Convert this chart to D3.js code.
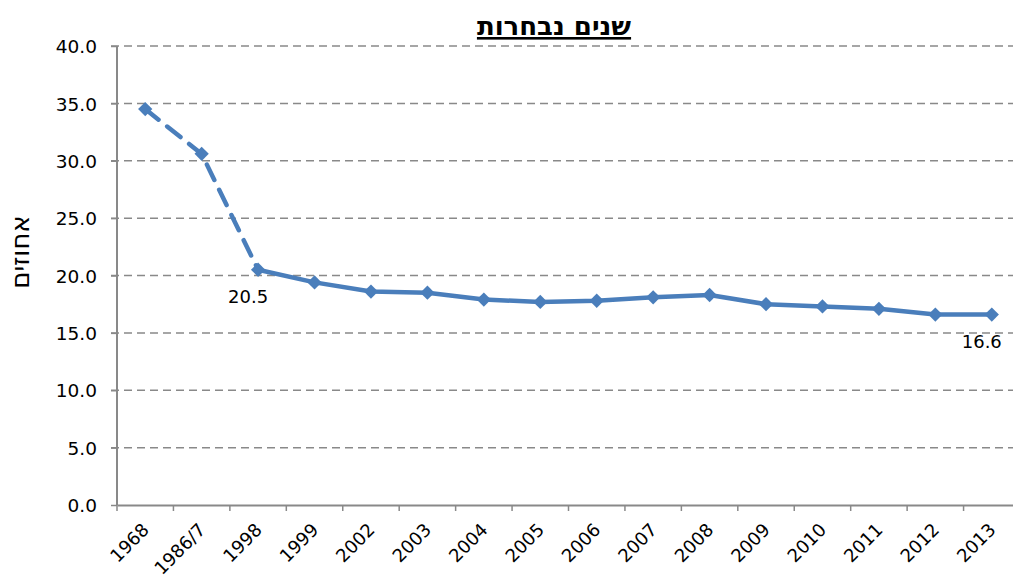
<!DOCTYPE html>
<html><head><meta charset="utf-8">
<script src="https://cdn.jsdelivr.net/npm/d3@7"></script>
<style>body{margin:0;background:#fff}svg{display:block}text{font-family:"DejaVu Sans",sans-serif}</style>
</head><body><svg id="c" width="1013" height="575"></svg>
<script>
const categories = ["1968","1986/7","1998","1999","2002","2003","2004","2005","2006","2007","2008","2009","2010","2011","2012","2013"];
const values = [34.5,30.6,20.5,19.4,18.6,18.5,17.9,17.7,17.8,18.1,18.3,17.5,17.3,17.1,16.6,16.6];
const yTicks = [0,5,10,15,20,25,30,35,40];
const title = "שנים נבחרות";
const yLabel = "אחוזים";
const labeledIdx = [2, 15];

const W = 1013;
const svg = d3.select("#c");
const mLeft = 117, mRight = 1020, mTop = 46, mBottom = 505;
const x = d3.scaleBand().domain(categories).range([mLeft, mRight]);
const y = d3.scaleLinear().domain([0, 40]).range([mBottom, mTop]);
const grey = "#898989";

// gridlines
svg.append("g").selectAll("line").data(yTicks.filter(d => d !== 0)).join("line")
  .attr("x1", mLeft - 6).attr("x2", W)
  .attr("y1", d => y(d)).attr("y2", d => y(d))
  .attr("stroke", grey).attr("stroke-width", 1.5).attr("stroke-dasharray", "8,5");

// y axis
const ya = svg.append("g").attr("transform", `translate(${mLeft},0)`)
  .call(d3.axisLeft(y).tickValues(yTicks).tickFormat(d3.format(".1f")).tickSize(6).tickPadding(14));
ya.select(".domain").attr("stroke", grey).attr("stroke-width", 2).attr("d", `M0,${mTop}V${mBottom}`);
ya.selectAll(".tick line").attr("stroke", grey).attr("stroke-width", 1.5);
ya.selectAll("text").attr("font-size", 18.5).attr("fill", "#000").attr("dy", "0.36em");

// x axis
const xa = svg.append("g").attr("transform", `translate(0,${mBottom})`)
  .call(d3.axisBottom(x).tickSize(0).tickPadding(0));
xa.select(".domain").attr("stroke", grey).attr("stroke-width", 2);
// boundary ticks
svg.append("g").selectAll("line").data(categories).join("line")
  .attr("x1", d => x(d)).attr("x2", d => x(d))
  .attr("y1", mBottom).attr("y2", mBottom + 6)
  .attr("stroke", grey).attr("stroke-width", 1.5);
xa.selectAll(".tick text")
  .attr("font-size", 18).attr("fill", "#000")
  .attr("text-anchor", "end").attr("dy", 0)
  .attr("transform", "translate(5,26) rotate(-45)");

const col = "#4a7ebb";
const line = d3.line().x(d => d.x).y(d => d.y);
const pts = values.map((v, i) => ({x: x(categories[i]) + x.bandwidth() / 2, y: y(v)}));

svg.append("path").attr("d", line(pts.slice(0, 3)))
  .attr("fill", "none").attr("stroke", col).attr("stroke-width", 4.5)
  .attr("stroke-dasharray", "17,11").attr("stroke-linecap", "round");
svg.append("path").attr("d", line(pts.slice(2)))
  .attr("fill", "none").attr("stroke", col).attr("stroke-width", 4.5)
  .attr("stroke-linejoin", "round");

svg.append("g").selectAll("path").data(pts).join("path")
  .attr("d", d3.symbol(d3.symbolDiamond2, 130)())
  .attr("transform", d => `translate(${d.x},${d.y})`)
  .attr("fill", col);

// data labels
svg.append("g").selectAll("text").data(labeledIdx).join("text")
  .attr("x", i => Math.min(pts[i].x - 10, W - 24)).attr("y", i => pts[i].y + 33)
  .attr("font-size", 18).attr("fill", "#000").attr("text-anchor", "middle")
  .text(i => values[i].toFixed(1));

svg.append("text").attr("x", 554).attr("y", 35)
  .attr("text-anchor", "middle").attr("font-size", 26).attr("font-weight", "bold")
  .attr("text-decoration", "underline").attr("direction", "rtl").text(title);

svg.append("text").attr("transform", "translate(29,252) rotate(-90)")
  .attr("text-anchor", "middle").attr("font-size", 26).attr("direction", "rtl").text(yLabel);
</script></body></html>
